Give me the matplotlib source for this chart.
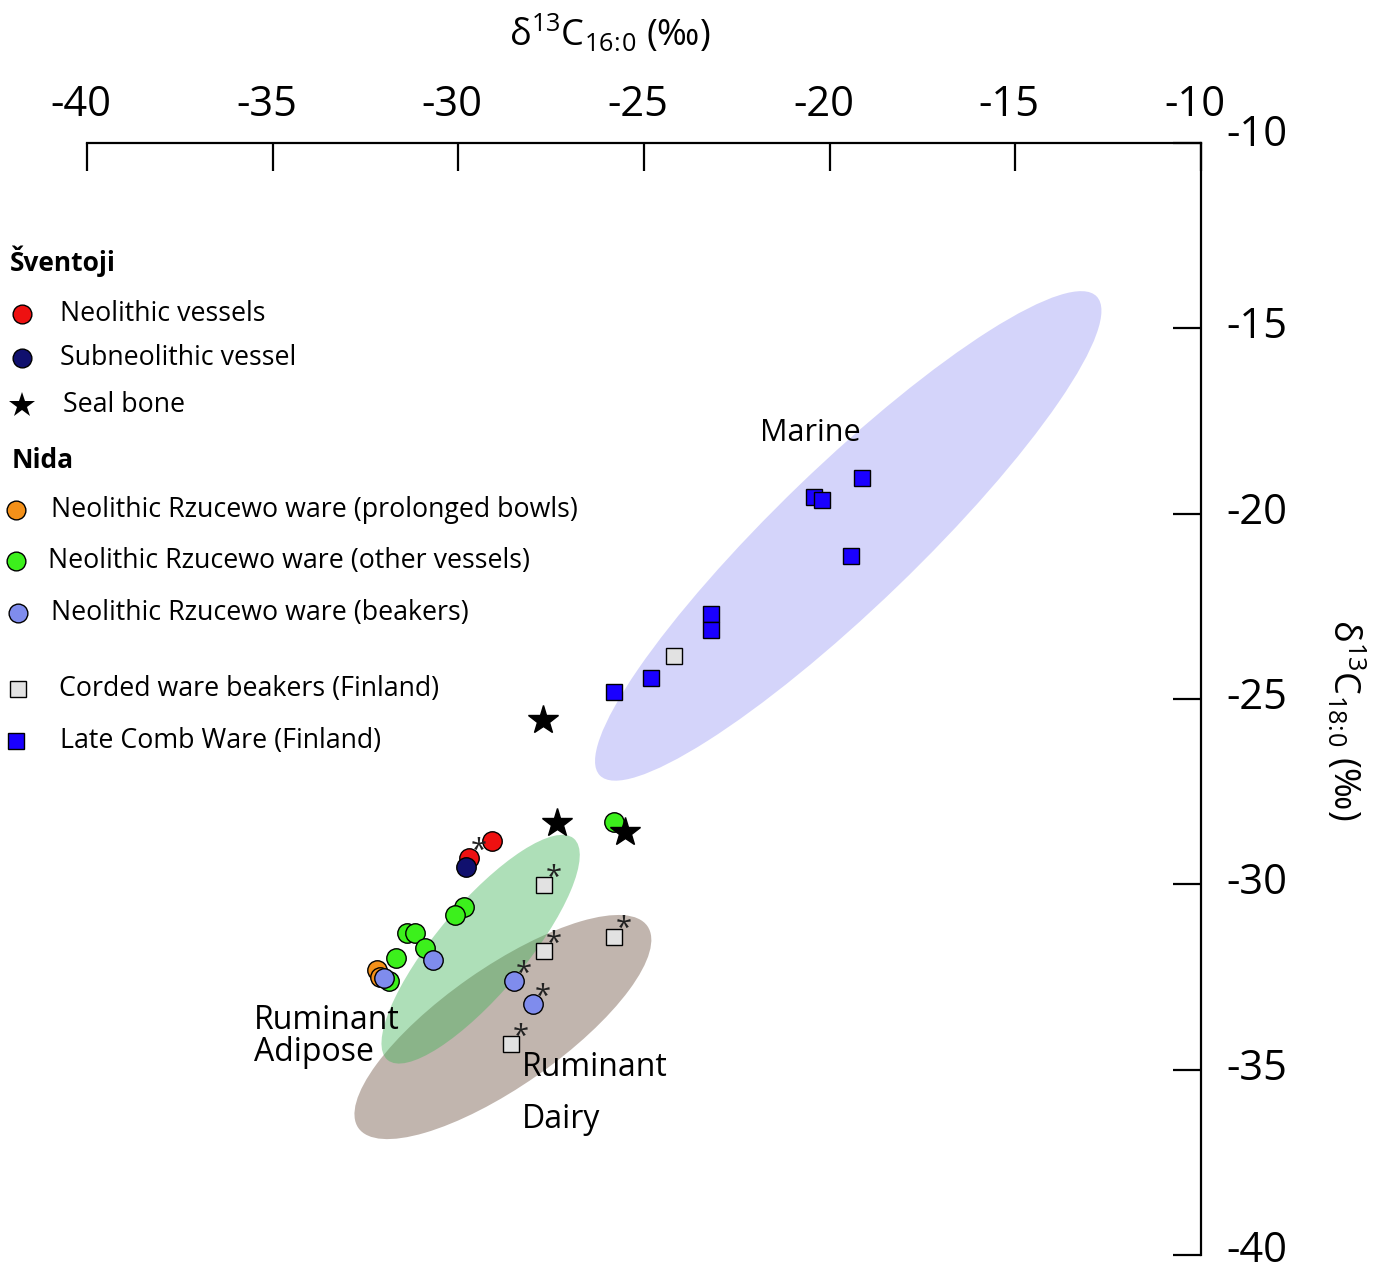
import matplotlib
matplotlib.use('Agg')
import matplotlib.pyplot as plt
import matplotlib.transforms as mtrans
from matplotlib.patches import Ellipse
from matplotlib.lines import Line2D

plt.rcParams['font.family'] = ['Open Sans', 'DejaVu Sans']
plt.rcParams['mathtext.default'] = 'regular'

# --- data (d13C16:0, d13C18:0) ---
neoVesX = [-29.10, -29.70]
neoVesY = [-28.82, -29.30]
neoVesStar = [False, True]

subNeoX = [-29.79]
subNeoY = [-29.52]

sealX = [-27.72, -27.35, -25.51]
sealY = [-25.57, -28.34, -28.58]

bowlsX = [-32.20, -32.11]
bowlsY = [-32.31, -32.49]

otherX = [-25.81, -29.86, -30.09, -31.39, -31.17, -30.90, -31.69, -31.86]
otherY = [-28.31, -30.62, -30.83, -31.32, -31.32, -31.71, -31.99, -32.62]

beakX = [-30.69, -31.99, -28.50, -28.00]
beakY = [-32.04, -32.53, -32.62, -33.23]
beakStar = [False, False, True, True]

cordX = [-27.69, -27.69, -25.80, -28.59, -24.20]
cordY = [-30.02, -31.81, -31.41, -34.31, -23.83]
cordStar = [True, True, True, True, False]

combX = [-25.80, -24.80, -23.20, -23.20, -19.42, -20.41, -20.21, -19.12]
combY = [-24.82, -24.42, -22.72, -23.14, -21.13, -19.54, -19.64, -19.03]

# reference ranges: center x, center y, length, width, angle
ellMarine = (-19.5, -20.6, 18.6, 3.8, 44)
ellDairy = (-28.8, -33.85, 9.5, 3.2, 35)
ellAdipose = (-29.4, -31.75, 7.8, 2.4, 50)

ticks = [-40, -35, -30, -25, -20, -15, -10]

W, H = 1390, 1271
fig = plt.figure(figsize=(W/100, H/100), dpi=100)
ax = fig.add_axes([87/W, 1-1255/H, (1201-87)/W, (1255-143)/H])
ax.set_xlim(-40, -10)
ax.set_ylim(-40, -10)
ax.spines['left'].set_visible(False)
ax.spines['bottom'].set_visible(False)
for s in ['top', 'right']:
  ax.spines[s].set_linewidth(1.6)
ax.xaxis.tick_top()
ax.yaxis.tick_right()
ax.set_xticks(ticks)
ax.set_yticks(ticks)
ax.set_xticklabels([str(t) for t in ticks])
ax.set_yticklabels([str(t) for t in ticks])
ax.tick_params(direction='in', length=20, width=1.6, labelsize=30)
ax.tick_params(axis='x', pad=12)
ax.tick_params(axis='y', pad=18)

# nudge tick labels the way the original sits them
for lab in ax.get_xticklabels():
  lab.set_transform(lab.get_transform() +
                    mtrans.ScaledTranslation(-6/100, 0, fig.dpi_scale_trans))
for t, lab in zip(ticks, ax.get_yticklabels()):
  up = {-10: 13, -40: 9}.get(t, 6)
  lab.set_transform(lab.get_transform() +
                    mtrans.ScaledTranslation(0, up/100, fig.dpi_scale_trans))

def ellipse(e, fc, alpha=1.0):
  cx, cy, w, h, ang = e
  ax.add_patch(Ellipse((cx, cy), w, h, angle=ang, facecolor=fc,
                       edgecolor='none', alpha=alpha, zorder=1))

ellipse(ellMarine, '#d4d4fa')
ellipse(ellDairy, '#c1b5ae')
ellipse(ellAdipose, '#3fb357', 0.42)

mk = dict(markeredgecolor='black', markeredgewidth=1.0, linestyle='none', zorder=3)
ax.plot(neoVesX, neoVesY, 'o', markersize=14, markerfacecolor='#ee1111', **mk)
ax.plot(subNeoX, subNeoY, 'o', markersize=14, markerfacecolor='#10106e', **mk)
ax.plot(bowlsX, bowlsY, 'o', markersize=14, markerfacecolor='#f39019', **mk)
ax.plot(otherX, otherY, 'o', markersize=14, markerfacecolor='#3cf01c', **mk)
ax.plot(beakX, beakY, 'o', markersize=14, markerfacecolor='#7f8ced', **mk)
ax.plot(cordX, cordY, 's', markersize=11.5, markerfacecolor='#e2e2e2', **mk)
ax.plot(combX, combY, 's', markersize=11.5, markerfacecolor='#1a00ff', **mk)
ax.plot(sealX, sealY, '*', markersize=22, markerfacecolor='black',
        markeredgecolor='black', linestyle='none', zorder=4)

# asterisks next to some samples
for xs, ys, flags in [(neoVesX, neoVesY, neoVesStar), (beakX, beakY, beakStar),
                      (cordX, cordY, cordStar)]:
  for x, y, f in zip(xs, ys, flags):
    if f:
      ax.annotate('*', (x, y), xytext=(7, 5), textcoords='offset points',
                  fontsize=21, color='#222222', ha='center', va='center', zorder=5)

# region labels
ax.text(-20.53, -17.82, 'Marine', fontsize=22, ha='center', va='center')
ax.text(-35.5, -34.1, 'Ruminant\nAdipose', fontsize=23, ha='left', va='center',
        linespacing=0.95)
ax.text(-28.28, -35.65, 'Ruminant\n\nDairy', fontsize=23, ha='left', va='center',
        linespacing=0.72)

# axis titles
fig.text(610/W, 1-34/H, r'δ$^{13}$C$_{16\!:\!0}$ (‰)', fontsize=26,
         ha='center', va='center')
fig.text(1345/W, 1-720/H, r'δ$^{13}$C$_{18\!:\!0}$ (‰)', fontsize=26,
         ha='center', va='center', rotation=270)

# legend drawn by hand
headers = [('Šventoji', 10, 261), ('Nida', 12, 460)]
for txt, px, py in headers:
  fig.text(px/W, 1-py/H, txt, fontsize=19, fontweight='bold', ha='left', va='center')

legRows = [
  ('o', '#ee1111', 13.5, 'Neolithic vessels', 22, 314, 60),
  ('o', '#10106e', 13.5, 'Subneolithic vessel', 22, 358, 60),
  ('*', 'black', 19, 'Seal bone', 22, 405, 63),
  ('o', '#f39019', 13.5, 'Neolithic Rzucewo ware (prolonged bowls)', 16, 510, 51),
  ('o', '#3cf01c', 13.5, 'Neolithic Rzucewo ware (other vessels)', 16, 561, 48),
  ('o', '#7f8ced', 13.5, 'Neolithic Rzucewo ware (beakers)', 18, 613, 51),
  ('s', '#e2e2e2', 11, 'Corded ware beakers (Finland)', 18, 689, 59),
  ('s', '#1a00ff', 11, 'Late Comb Ware (Finland)', 16, 741, 60),
]
for m, c, ms, lab, mx, py, tx in legRows:
  fig.add_artist(Line2D([mx/W], [1-py/H], transform=fig.transFigure, marker=m,
                        markersize=ms, markerfacecolor=c, markeredgecolor='black',
                        markeredgewidth=1.0 if m != '*' else 0, linestyle='none'))
  fig.text(tx/W, 1-py/H, lab, fontsize=19.3, ha='left', va='center')

fig.savefig('out.png', dpi=100)
